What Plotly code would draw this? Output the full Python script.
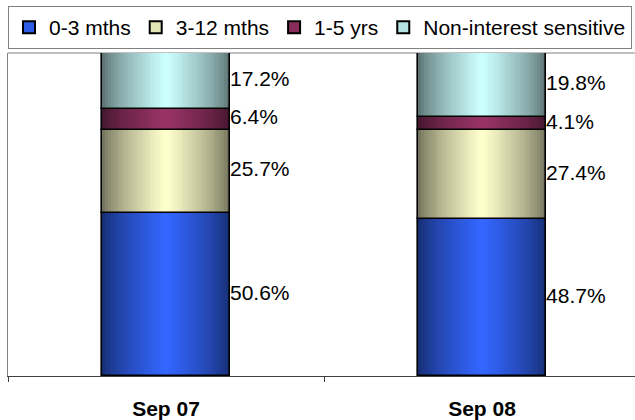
import plotly.graph_objects as go

# Repricing profile by maturity bucket (% of total)
categories = ["Sep 07", "Sep 08"]
series_names = ["0-3 mths", "3-12 mths", "1-5 yrs", "Non-interest sensitive"]
mths_0_3 = [50.6, 48.7]
mths_3_12 = [25.7, 27.4]
yrs_1_5 = [6.4, 4.1]
non_sensitive = [17.2, 19.8]
series_values = [mths_0_3, mths_3_12, yrs_1_5, non_sensitive]

# Light centre colour of each band; the edges are a darker shade of it
center_colors = ["#3366FF", "#FFFFCC", "#993366", "#CCFFFF"]
EDGE_FACTOR = 0.46
LAYERS = 22
BAR_WIDTH = 0.405
FONT = "Liberation Sans, Arial, sans-serif"


def hex_rgb(h):
    h = h.lstrip("#")
    return tuple(int(h[i:i + 2], 16) for i in (0, 2, 4))


def shade(rgb_center, t):
    # t = 0 at bar edge (dark), t = 1 at bar centre (light)
    edge = [c * EDGE_FACTOR for c in rgb_center]
    return "rgb({},{},{})".format(*[round(e + (c - e) * t) for e, c in zip(edge, rgb_center)])


x_pos = list(range(len(categories)))
fig = go.Figure()

# Legend entries (drawn in series order)
for name, col in zip(series_names, center_colors):
    fig.add_trace(go.Bar(
        x=[None], y=[None], name=name,
        marker=dict(color=shade(hex_rgb(col), 0.8), line=dict(color="#000000", width=1)),
        showlegend=True, hoverinfo="skip",
    ))

bases = [0.0] * len(categories)
for name, vals, col in zip(series_names, series_values, center_colors):
    rgb = hex_rgb(col)
    base = list(bases)
    # nested bars of shrinking width give a horizontal gradient
    for k in range(LAYERS):
        t = (k / (LAYERS - 1)) ** 0.75
        fig.add_trace(go.Bar(
            x=x_pos, y=vals, base=base,
            width=BAR_WIDTH * (1 - k / LAYERS),
            marker=dict(color=shade(rgb, t), line=dict(width=0)),
            showlegend=False, hoverinfo="skip",
        ))
    # segment outline
    fig.add_trace(go.Bar(
        x=x_pos, y=vals, base=base, width=BAR_WIDTH, cliponaxis=False,
        marker=dict(color="rgba(0,0,0,0)", line=dict(color="#000000", width=1.6)),
        showlegend=False, hoverinfo="skip",
    ))
    # value label beside the segment
    fig.add_trace(go.Scatter(
        x=[p + BAR_WIDTH / 2 for p in x_pos],
        y=[b + v / 2 for b, v in zip(base, vals)],
        text=[f"{v:.1f}%" for v in vals],
        mode="text", textposition="middle right",
        textfont=dict(family=FONT, size=21, color="#000000"),
        showlegend=False, hoverinfo="skip", cliponaxis=False,
    ))
    bases = [b + v for b, v in zip(bases, vals)]

fig.update_layout(
    width=635, height=420,
    margin=dict(l=8, r=0, t=53, b=42),
    paper_bgcolor="#FFFFFF", plot_bgcolor="#FFFFFF",
    barmode="overlay", bargap=0,
    font=dict(family=FONT, size=21, color="#000000"),
    legend=dict(
        orientation="h", xref="container", yref="container",
        x=8 / 635, y=1 - 6 / 420, xanchor="left", yanchor="top",
        bordercolor="#808080", borderwidth=1, bgcolor="#FFFFFF",
        font=dict(family=FONT, size=21, color="#000000"),
        itemsizing="constant",
    ),
    xaxis=dict(
        range=[-0.5, 1.484], tickvals=x_pos, ticktext=categories,
        ticks="", showgrid=False, zeroline=False,
        showline=True, linecolor="#404040", linewidth=1,
        tickfont=dict(family=FONT, size=21, color="#000000", weight="bold"),
        ticklabelstandoff=14,
        minor=dict(tickvals=[-0.5, 0.5], ticks="outside", ticklen=5,
                   tickcolor="#404040", tickwidth=1, showgrid=False),
    ),
    yaxis=dict(
        range=[0, 100], showticklabels=False, ticks="", showgrid=False,
        zeroline=False, showline=True, linecolor="#808080", linewidth=1,
    ),
    shapes=[dict(type="line", xref="paper", yref="paper", x0=0, x1=1, y0=1, y1=1,
                 layer="below", line=dict(color="#808080", width=1))],
)

fig.write_html("out.html")
